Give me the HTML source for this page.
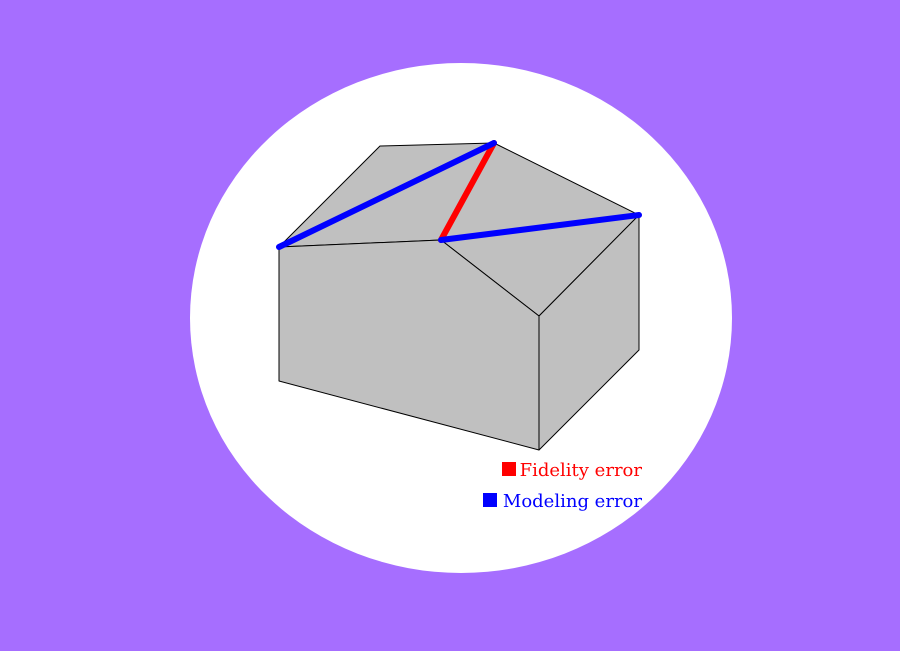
<!DOCTYPE html>
<html><head><meta charset="utf-8"><style>
html,body{margin:0;padding:0;background:#a66eff;}
svg{display:block;}
</style></head><body>
<svg width="900" height="651" viewBox="0 0 900 651">
<rect width="900" height="651" fill="#a66eff"/>
<ellipse cx="461" cy="318" rx="271" ry="255" fill="#fff"/>
<g stroke="#000" stroke-width="1" fill="#c0c0c0" stroke-linejoin="round">
<polygon points="279,247 380,146 494,143 441,240"/>
<polygon points="494,143 639,215 539,316 441,240"/>
<polygon points="279,247 441,240 539,316 539,450 279,381"/>
<polygon points="539,316 639,215 639,350 539,450"/>
</g>
<g stroke-linecap="round" stroke-width="6">
<line x1="441" y1="240" x2="494" y2="143" stroke="#ff0000"/>
<line x1="279" y1="247" x2="494" y2="143" stroke="#0000ff"/>
<line x1="441" y1="240" x2="639" y2="215" stroke="#0000ff"/>
</g>
<rect x="502" y="462" width="14" height="14" fill="#ff0000"/>
<text x="642" y="476" text-anchor="end" font-family="'DejaVu Serif','Liberation Serif',serif" font-size="18" fill="#ff0000">Fidelity error</text>
<rect x="483" y="493" width="14" height="14" fill="#0000ff"/>
<text x="642" y="507" text-anchor="end" font-family="'DejaVu Serif','Liberation Serif',serif" font-size="18" fill="#0000ff">Modeling error</text>
</svg>
</body></html>
